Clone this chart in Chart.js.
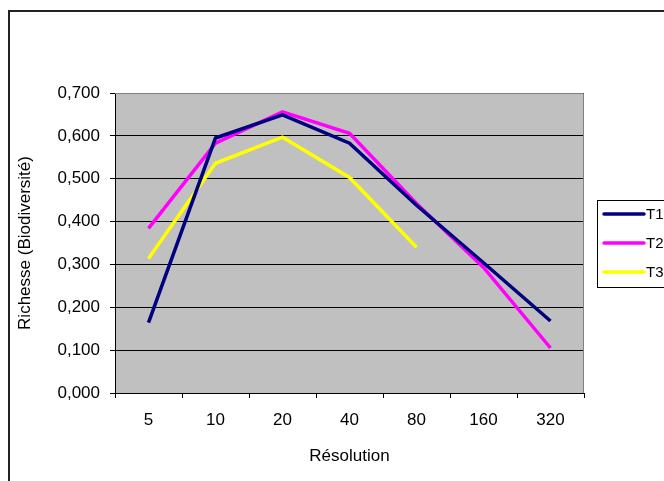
<!DOCTYPE html>
<html>
<head>
<meta charset="utf-8">
<script src="https://cdn.jsdelivr.net/npm/chart.js@4/dist/chart.umd.min.js"></script>
<style>
    html, body { margin: 0; padding: 0; background: #fff; }
    #wrap { width: 664px; height: 481px; position: relative; }
</style>
</head>
<body>
<div id="wrap"><canvas id="chart" width="664" height="481"></canvas></div>
<script>
const categories = ['5', '10', '20', '40', '80', '160', '320'];
const seriesNames = ['T1', 'T2', 'T3'];
const t1Values = [0.164, 0.595, 0.649, 0.583, 0.438, 0.304, 0.168];
const t2Values = [0.384, 0.583, 0.656, 0.606, 0.442, 0.293, 0.105];
const t3Values = [0.314, 0.536, 0.597, 0.503, 0.340, null, null];
const seriesColors = ['#000080', '#FF00FF', '#FFFF00'];
const yTicks = [0, 0.1, 0.2, 0.3, 0.4, 0.5, 0.6, 0.7];

const FONT = { family: 'Arial, "Liberation Sans", sans-serif', size: 17 };

// gray plot area, frame and legend (Excel look)
const excelDecor = {
    id: 'excelDecor',
    beforeDraw(chart) {
        const { ctx, chartArea: a } = chart;
        ctx.save();
        ctx.fillStyle = '#C0C0C0';
        ctx.fillRect(a.left, a.top, a.right - a.left, a.bottom - a.top);
        ctx.strokeStyle = '#222';
        ctx.lineWidth = 2;
        ctx.strokeRect(9, 11, 700, 500);
        ctx.restore();
    },
    beforeDatasetsDraw(chart) {
        const { ctx, chartArea: a } = chart;
        ctx.save();
        ctx.strokeStyle = '#808080';
        ctx.lineWidth = 1;
        ctx.beginPath();
        ctx.moveTo(a.left, a.top + 0.5);
        ctx.lineTo(a.right - 0.5, a.top + 0.5);
        ctx.lineTo(a.right - 0.5, a.bottom);
        ctx.stroke();
        ctx.restore();
    },
    afterDraw(chart) {
        const { ctx } = chart;
        ctx.save();
        ctx.fillStyle = '#fff';
        ctx.fillRect(597.5, 200.5, 80, 87);
        ctx.strokeStyle = '#000';
        ctx.lineWidth = 1;
        ctx.strokeRect(597.5, 200.5, 80, 87);
        const rows = [214, 243, 272];
        chart.data.datasets.forEach((ds, i) => {
            ctx.strokeStyle = ds.borderColor;
            ctx.lineWidth = 3.5;
            ctx.lineCap = 'round';
            ctx.beginPath();
            ctx.moveTo(604, rows[i]);
            ctx.lineTo(644, rows[i]);
            ctx.stroke();
            ctx.fillStyle = '#000';
            ctx.font = '15px ' + FONT.family;
            ctx.textBaseline = 'middle';
            ctx.textAlign = 'left';
            ctx.fillText(ds.label, 646, rows[i] + 1);
        });
        ctx.restore();
    }
};

new Chart(document.getElementById('chart'), {
    type: 'line',
    data: {
        labels: categories,
        datasets: [t1Values, t2Values, t3Values].map((vals, i) => ({
            label: seriesNames[i],
            data: vals,
            borderColor: seriesColors[i],
            backgroundColor: seriesColors[i],
            borderWidth: 3.5,
            pointRadius: 0,
            tension: 0,
            fill: false,
            spanGaps: false
        }))
    },
    options: {
        responsive: false,
        animation: false,
        layout: { padding: { left: 0, top: 93, right: 80, bottom: 0 } },
        plugins: {
            legend: { display: false },
            tooltip: { enabled: false }
        },
        scales: {
            x: {
                offset: true,
                afterFit: s => { s.height = 88; },
                grid: { offset: true, drawOnChartArea: false, drawTicks: true, tickLength: 5, color: '#000' },
                border: { color: '#000', width: 1 },
                ticks: { color: '#000', font: FONT, padding: 12, maxRotation: 0, autoSkip: false },
                title: { display: true, text: 'Résolution', color: '#000', font: FONT, padding: { top: 0, bottom: 14 } }
            },
            y: {
                min: 0,
                max: 0.7,
                afterFit: s => { s.width = 115; },
                afterBuildTicks: s => { s.ticks = yTicks.map(v => ({ value: v })); },
                grid: { color: '#000', lineWidth: 1, drawTicks: true, tickLength: 5 },
                border: { color: '#000', width: 1 },
                ticks: {
                    color: '#000',
                    font: FONT,
                    padding: 10,
                    callback: v => v.toFixed(3).replace('.', ',')
                },
                title: { display: true, text: 'Richesse (Biodiversité)', color: '#000', font: FONT, padding: { top: 15, bottom: 0 } }
            }
        }
    },
    plugins: [excelDecor]
});
</script>
</body>
</html>
